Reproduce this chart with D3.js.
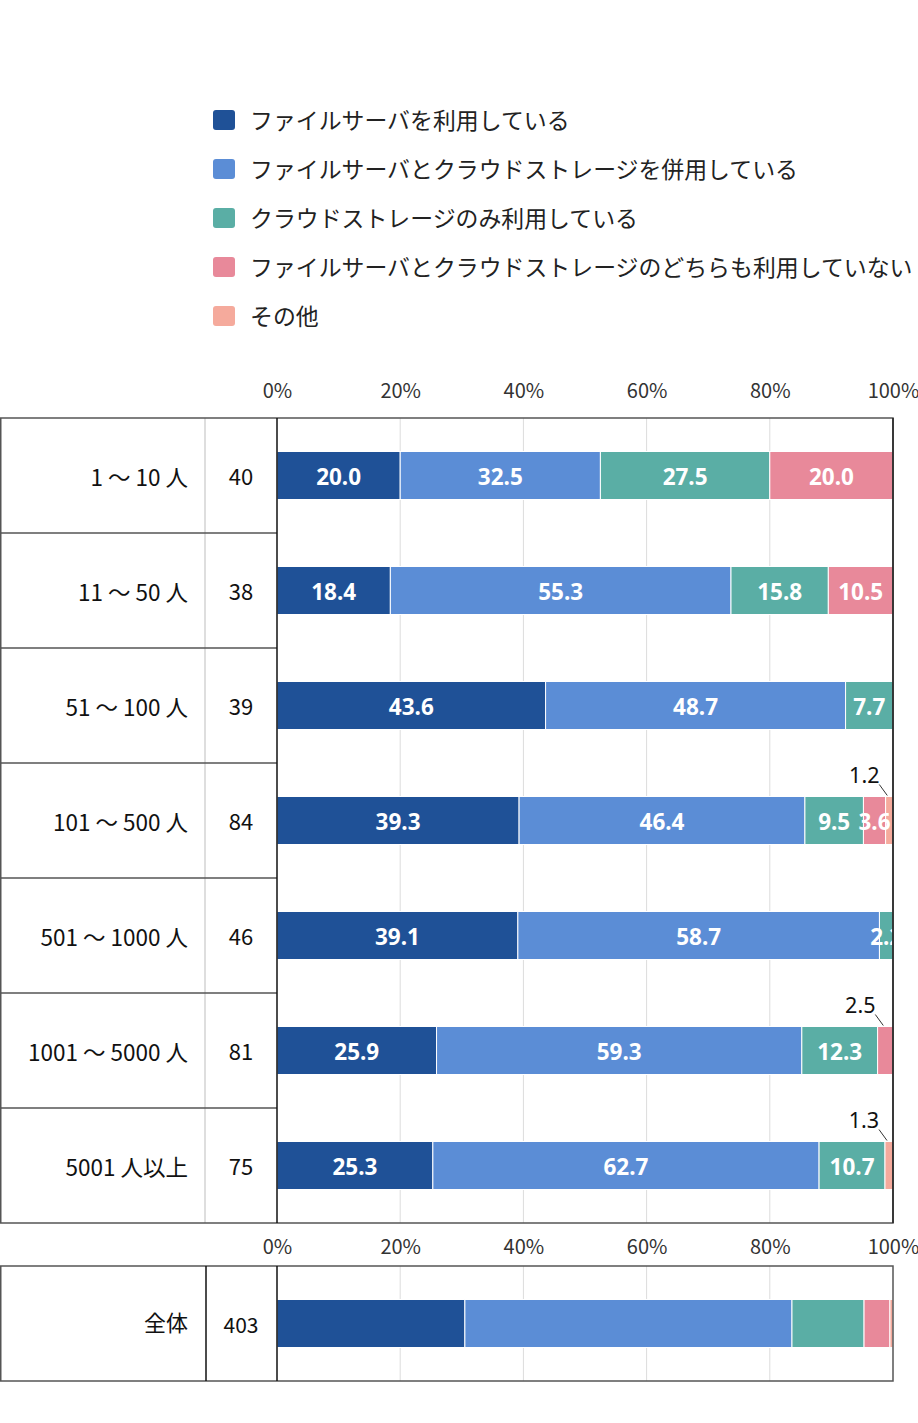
<!DOCTYPE html>
<html>
<head>
<meta charset="utf-8">
<script src="https://cdn.jsdelivr.net/npm/d3@7"></script>
<style>
  body { margin: 0; background: #fff; }
  svg { display: block; font-family: "Noto Sans CJK JP", "Noto Sans", sans-serif; }
</style>
</head>
<body>
<svg id="drawing_region"></svg>
<script>
// categories and sample sizes
const categories = ['1 ～ 10 人', '11 ～ 50 人', '51 ～ 100 人', '101 ～ 500 人', '501 ～ 1000 人', '1001 ～ 5000 人', '5001 人以上'];
const counts = [40, 38, 39, 84, 46, 81, 75];

const seriesNames = [
    'ファイルサーバを利用している',
    'ファイルサーバとクラウドストレージを併用している',
    'クラウドストレージのみ利用している',
    'ファイルサーバとクラウドストレージのどちらも利用していない',
    'その他'
];
const seriesColors = ['#1f5197', '#5b8dd6', '#5aaea5', '#e8899a', '#f5aa9c'];

// percentages per series, one value per category
const fileServer = [20.0, 18.4, 43.6, 39.3, 39.1, 25.9, 25.3];
const both = [32.5, 55.3, 48.7, 46.4, 58.7, 59.3, 62.7];
const cloudOnly = [27.5, 15.8, 7.7, 9.5, 2.2, 12.3, 10.7];
const neither = [20.0, 10.5, 0, 3.6, 0, 2.5, 0];
const other = [0, 0, 0, 1.2, 0, 0, 1.3];

// overall row
const totalLabel = '全体';
const totalCount = 403;
const totalValues = [30.5, 53.1, 11.7, 4.2, 0.5];

const ticks = [0, 20, 40, 60, 80, 100];

// labels drawn outside the bar with a leader line [category index, series index]
const outsideLabels = [[3, 4], [5, 3], [6, 4]];
// labels hidden (too small or zero)
const hideBelow = 1;

const W = 918, H = 1423;
const svg = d3.select('#drawing_region').attr('width', W).attr('height', H);

const left = 0, colSep = 205, axisX = 277, right = 893;
const topY = 418, bottomY = 1223;
const totTop = 1266, totBottom = 1381;

const xscale = d3.scaleLinear().domain([0, 100]).range([axisX, right]);
const yscale = d3.scaleBand().domain(categories).range([topY, bottomY]);
const barH = 48;

const keys = seriesNames.map((d, i) => i);
const rows = categories.map((c, i) => ({
    cat: c,
    vals: [fileServer[i], both[i], cloudOnly[i], neither[i], other[i]]
}));

const stack = d3.stack().keys(keys).value((d, k) => d.vals[k]);

// legend
const legend = svg.append('g');
seriesNames.forEach((name, i) => {
    const cy = 120 + i * 49;
    legend.append('rect')
        .attr('x', 213).attr('y', cy - 10)
        .attr('width', 22).attr('height', 20)
        .attr('rx', 3)
        .attr('fill', seriesColors[i]);
    legend.append('text')
        .attr('x', 250).attr('y', cy + 1)
        .attr('dy', '0.36em')
        .attr('font-size', 22.9)
        .attr('fill', '#222')
        .text(name);
});

// clip for the plot area
const defs = svg.append('defs');
defs.append('clipPath').attr('id', 'clipTop')
    .append('rect').attr('x', axisX).attr('y', topY).attr('width', right - axisX).attr('height', bottomY - topY);
defs.append('clipPath').attr('id', 'clipTot')
    .append('rect').attr('x', axisX).attr('y', totTop).attr('width', right - axisX).attr('height', totBottom - totTop);

function drawAxis(y, pad) {
    const axis = d3.axisTop(xscale)
        .tickValues(ticks)
        .tickSize(0)
        .tickPadding(pad)
        .tickFormat(d => d + '%');
    const g = svg.append('g')
        .attr('transform', `translate(0,${y})`)
        .call(axis);
    g.select('.domain').remove();
    g.selectAll('text')
        .attr('font-size', 20)
        .attr('font-family', '"Noto Sans CJK JP", sans-serif')
        .attr('fill', '#333');
}

function drawGrid(y0, y1) {
    svg.append('g').selectAll('line')
        .data(ticks.slice(1, -1))
        .join('line')
        .attr('x1', d => xscale(d)).attr('x2', d => xscale(d))
        .attr('y1', y0).attr('y2', y1)
        .attr('stroke', '#dcdcdc').attr('stroke-width', 1);
}

// ---- top table ----
drawGrid(topY, bottomY);

// light column separator
svg.append('line')
    .attr('x1', colSep).attr('x2', colSep)
    .attr('y1', topY).attr('y2', bottomY)
    .attr('stroke', '#bdbdbd');

// row lines in the table part
svg.append('g').selectAll('line')
    .data(categories.slice(1))
    .join('line')
    .attr('x1', left).attr('x2', axisX)
    .attr('y1', d => yscale(d)).attr('y2', d => yscale(d))
    .attr('stroke', '#555').attr('stroke-width', 1.5);

// bars
const series = stack(rows);
const barsG = svg.append('g').attr('clip-path', 'url(#clipTop)');
series.forEach((s, si) => {
    barsG.append('g').selectAll('rect')
        .data(s)
        .join('rect')
        .attr('x', d => xscale(d[0]))
        .attr('y', d => yscale(d.data.cat) + (yscale.bandwidth() - barH) / 2)
        .attr('width', d => Math.max(0, xscale(d[1]) - xscale(d[0])))
        .attr('height', barH)
        .attr('fill', seriesColors[si])
        .attr('stroke', '#fff')
        .attr('stroke-width', d => (d[1] - d[0]) > 0 ? 1 : 0);
});

// value labels inside bars
const isOutside = (ci, si) => outsideLabels.some(o => o[0] === ci && o[1] === si);
series.forEach((s, si) => {
    s.forEach((d, ci) => {
        const v = d[1] - d[0];
        if (v < hideBelow || isOutside(ci, si)) return;
        barsG.append('text')
            .attr('x', xscale((d[0] + d[1]) / 2))
            .attr('y', yscale(d.data.cat) + yscale.bandwidth() / 2 + 1)
            .attr('dy', '0.36em')
            .attr('text-anchor', 'middle')
            .attr('font-size', 22.5)
            .attr('font-weight', 'bold')
            .attr('font-family', '"Noto Sans", "Noto Sans CJK JP", sans-serif')
            .attr('fill', '#fff')
            .text(v.toFixed(1));
    });
});

// outside labels with leader lines
outsideLabels.forEach(([ci, si]) => {
    const d = series[si][ci];
    const cx = xscale((d[0] + d[1]) / 2);
    const barTop = yscale(d.data.cat) + (yscale.bandwidth() - barH) / 2;
    svg.append('line')
        .attr('x1', cx - 10).attr('y1', barTop - 12)
        .attr('x2', cx - 2).attr('y2', barTop - 1)
        .attr('stroke', '#333').attr('stroke-width', 1);
    svg.append('text')
        .attr('x', cx - 25).attr('y', barTop - 14)
        .attr('text-anchor', 'middle')
        .attr('font-size', 21.5)
        .attr('font-family', '"Noto Sans", "Noto Sans CJK JP", sans-serif')
        .attr('fill', '#111')
        .text((d[1] - d[0]).toFixed(1));
});

// category and count labels
svg.append('g').selectAll('text')
    .data(categories)
    .join('text')
    .attr('x', 188)
    .attr('y', d => yscale(d) + yscale.bandwidth() / 2 + 2)
    .attr('dy', '0.36em')
    .attr('text-anchor', 'end')
    .attr('font-size', 22.5)
    .attr('fill', '#111')
    .text(d => d);

svg.append('g').selectAll('text')
    .data(counts)
    .join('text')
    .attr('x', 241)
    .attr('y', (d, i) => yscale(categories[i]) + yscale.bandwidth() / 2 + 2)
    .attr('dy', '0.36em')
    .attr('text-anchor', 'middle')
    .attr('font-size', 22)
    .attr('fill', '#111')
    .text(d => d);

// outer borders top table
svg.append('rect')
    .attr('x', left + 0.75).attr('y', topY)
    .attr('width', right - left - 0.75).attr('height', bottomY - topY)
    .attr('fill', 'none').attr('stroke', '#555').attr('stroke-width', 1.5);
svg.append('line')
    .attr('x1', axisX).attr('x2', axisX)
    .attr('y1', topY).attr('y2', bottomY)
    .attr('stroke', '#111').attr('stroke-width', 1.5);
svg.append('line')
    .attr('x1', right).attr('x2', right)
    .attr('y1', topY).attr('y2', bottomY)
    .attr('stroke', '#222').attr('stroke-width', 1.5);

drawAxis(topY, 20);

// ---- overall table ----
drawGrid(totTop, totBottom);

const totRow = [{ cat: totalLabel, vals: totalValues }];
const totSeries = stack(totRow);
const totBarY = (totTop + totBottom) / 2 - barH / 2;
const totG = svg.append('g').attr('clip-path', 'url(#clipTot)');
totSeries.forEach((s, si) => {
    totG.append('g').selectAll('rect')
        .data(s)
        .join('rect')
        .attr('x', d => xscale(d[0]))
        .attr('y', totBarY)
        .attr('width', d => xscale(d[1]) - xscale(d[0]))
        .attr('height', barH)
        .attr('fill', seriesColors[si])
        .attr('stroke', '#fff')
        .attr('stroke-width', 1);
});

svg.append('text')
    .attr('x', 188).attr('y', (totTop + totBottom) / 2)
    .attr('dy', '0.36em')
    .attr('text-anchor', 'end')
    .attr('font-size', 22)
    .attr('fill', '#111')
    .text(totalLabel);
svg.append('text')
    .attr('x', 241).attr('y', (totTop + totBottom) / 2 + 2)
    .attr('dy', '0.36em')
    .attr('text-anchor', 'middle')
    .attr('font-size', 21)
    .attr('fill', '#111')
    .text(totalCount);

svg.append('rect')
    .attr('x', left + 0.75).attr('y', totTop)
    .attr('width', right - left - 0.75).attr('height', totBottom - totTop)
    .attr('fill', 'none').attr('stroke', '#555').attr('stroke-width', 1.5);
[206, axisX].forEach(x => {
    svg.append('line')
        .attr('x1', x).attr('x2', x)
        .attr('y1', totTop).attr('y2', totBottom)
        .attr('stroke', '#111').attr('stroke-width', 1.5);
});

drawAxis(totTop, 12);
</script>
</body>
</html>
